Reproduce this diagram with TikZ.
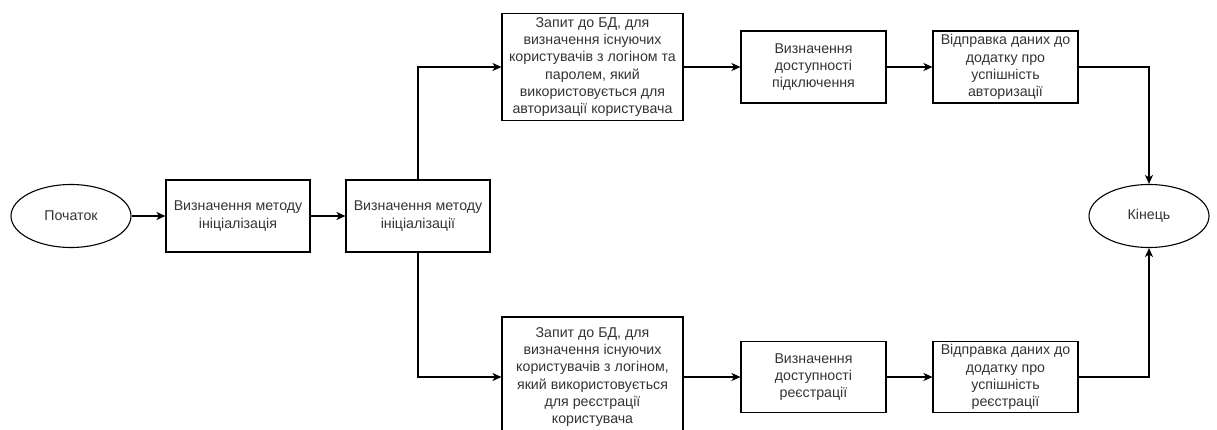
\documentclass[tikz,border=0pt]{standalone}
\usepackage{fontspec}
\setmainfont{Liberation Sans}
\usetikzlibrary{arrows.meta,shapes.geometric}
\definecolor{txt}{HTML}{333333}
\tikzset{
  every node/.style={font=\fontsize{14.2}{17.2}\selectfont, text=txt, align=center, inner sep=0pt},
  stepbox/.style={draw=black, line width=1.1pt, rectangle, minimum width=#1},
  stepbox/.default=145pt,
  term/.style={draw=black, line width=1.1pt, ellipse, minimum width=120pt, minimum height=63pt},
  flow/.style={draw=black, line width=1.1pt, -{Stealth[length=9pt,width=8pt,inset=2.5pt]}},
}
\begin{document}
\begin{tikzpicture}[x=1pt,y=-1pt]
\path[use as bounding box, clip] (0,0) rectangle (1217,430);

% start and end terminators
\node[term] (start) at (71,216) {Початок};
\node[term] (finish) at (1149,216) {Кінець};

% method selection
\node[stepbox=144pt, minimum height=72pt] (m1) at (238,216) {Визначення методу\\ініціалізація};
\node[stepbox=144pt, minimum height=72pt] (m2) at (418,216) {Визначення методу\\ініціалізації};

% authorisation branch
\node[stepbox=181pt, minimum height=107pt] (qa) at (592.5,67) {Запит до БД, для\\визначення існуючих\\користувачів з логіном та\\паролем, який\\використовується для\\авторизації користувача};
\node[stepbox, minimum height=72pt] (ca) at (813.5,67) {Визначення\\доступності\\підключення};
\node[stepbox, minimum height=72pt] (sa) at (1005.5,67) {Відправка даних до\\додатку про\\успішність\\авторизації};

% registration branch
\node[stepbox=181pt, minimum height=120pt] (qr) at (592.5,377) {Запит до БД, для\\визначення існуючих\\користувачів з логіном,\\який використовується\\для реєстрації\\користувача};
\node[stepbox, minimum height=71pt] (cr) at (813.5,377) {Визначення\\доступності\\реєстрації};
\node[stepbox, minimum height=71pt] (sr) at (1005.5,377) {Відправка даних до\\додатку про\\успішність\\реєстрації};

% connectors
\draw[flow] (start) -- (m1);
\draw[flow] (m1) -- (m2);
\draw[flow] (m2.north) |- (qa.west);
\draw[flow] (m2.south) |- (qr.west);
\draw[flow] (qa) -- (ca);
\draw[flow] (ca) -- (sa);
\draw[flow] (qr) -- (cr);
\draw[flow] (cr) -- (sr);
\draw[flow] (sa.east) -| (finish.north);
\draw[flow] (sr.east) -| (finish.south);
\end{tikzpicture}
\end{document}
